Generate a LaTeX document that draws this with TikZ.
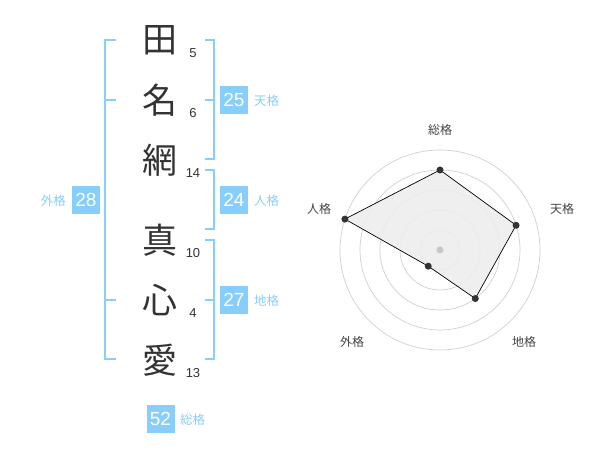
\documentclass[tikz,border=0pt]{standalone}
\usepackage{fontspec}
\setmainfont{Liberation Sans}
\newfontfamily\jp{Noto Sans CJK JP}
\definecolor{sky}{HTML}{87CEFA}
\definecolor{ink}{HTML}{333333}
\definecolor{ring}{HTML}{D0D0D0}
\definecolor{lab}{HTML}{444444}
\begin{document}
\begin{tikzpicture}[x=1pt,y=-1pt,
  kanji/.style={font=\jp\fontsize{35}{35}\selectfont, text=ink, inner sep=0pt},
  stroke/.style={font=\fontsize{13}{13}\selectfont, text=ink, inner sep=0pt},
  badge/.style={fill=sky, text=white, minimum width=28pt, minimum height=28pt, inner sep=0pt, font=\fontsize{19}{19}\selectfont},
  kaku/.style={font=\jp\fontsize{12.5}{12.5}\selectfont, text=sky, inner sep=0pt},
  bracket/.style={draw=sky, line width=1.6pt},
  ringline/.style={draw=ring, line width=0.7pt},
  axlab/.style={font=\jp\fontsize{12}{12}\selectfont, text=lab, inner sep=0pt},
  dot/.style={circle, fill=ink, inner sep=0pt, minimum size=7pt}
]
\useasboundingbox (0,0) rectangle (600,470);
% kanji
\node[kanji] (k1) at (160,40) {田};
\node[kanji] (k2) at (160,100) {名};
\node[kanji] (k3) at (160,160) {網};
\node[kanji] (k4) at (160,240) {真};
\node[kanji] (k5) at (160,300) {心};
\node[kanji] (k6) at (160,360) {愛};
% stroke counts
\node[stroke] (s1) at (193,53) {5};
\node[stroke] (s2) at (193,113) {6};
\node[stroke] (s3) at (193,173) {14};
\node[stroke] (s4) at (193,253) {10};
\node[stroke] (s5) at (193,313) {4};
\node[stroke] (s6) at (193,373) {13};
% left bracket (gaikaku)
\coordinate (la) at (116,40);
\coordinate (lb) at (116,100);
\coordinate (lc) at (116,300);
\coordinate (ld) at (116,359);
\coordinate (lx) at (105,40);
\draw[bracket] (la) -- (105,40) -- (105,359) -- (ld);
\draw[bracket] (lb) -- (105,100);
\draw[bracket] (lc) -- (105,300);
% right brackets
\draw[bracket] (205,40) -- (214,40) -- (214,159) -- (205,159);
\draw[bracket] (205,100) -- (214,100);
\draw[bracket] (205,170) -- (214,170) -- (214,229) -- (205,229);
\draw[bracket] (205,240) -- (214,240) -- (214,359) -- (205,359);
\draw[bracket] (205,300) -- (214,300);
% badges
\node[badge] (b25) at (234,100) {25};
\node[kaku, anchor=west] (t25) at (254,101) {天格};
\node[badge] (b24) at (234,200) {24};
\node[kaku, anchor=west] (t24) at (254,201) {人格};
\node[badge] (b27) at (234,300) {27};
\node[kaku, anchor=west] (t27) at (254,301) {地格};
\node[badge] (b28) at (86,200) {28};
\node[kaku, anchor=east] (t28) at (66,201) {外格};
\node[badge] (b52) at (160.5,419) {52};
\node[kaku, anchor=west] (t52) at (180,420) {総格};
% radar chart
\coordinate (c) at (440,250);
\foreach \r in {20,40,60,80,100} \draw[ringline] (c) circle[radius=\r];
\coordinate (p1) at (440,170);
\coordinate (p2) at (516.08,225.28);
\coordinate (p3) at (475.27,298.54);
\coordinate (p4) at (428.24,266.18);
\coordinate (p5) at (344.89,219.10);
\filldraw[fill=black!7, draw=black, line width=0.7pt, fill opacity=0.9] (p1) -- (p2) -- (p3) -- (p4) -- (p5) -- cycle;
\node[circle, fill=black!22, inner sep=0pt, minimum size=7pt] (cd) at (c) {};
\node[dot] (d1) at (p1) {};
\node[dot] (d2) at (p2) {};
\node[dot] (d3) at (p3) {};
\node[dot] (d4) at (p4) {};
\node[dot] (d5) at (p5) {};
\node[axlab] (a1) at (440,130) {総格};
\node[axlab] (a2) at (562,209) {天格};
\node[axlab] (a3) at (524,342) {地格};
\node[axlab] (a4) at (352,342) {外格};
\node[axlab] (a5) at (319,209) {人格};
\end{tikzpicture}
\end{document}
